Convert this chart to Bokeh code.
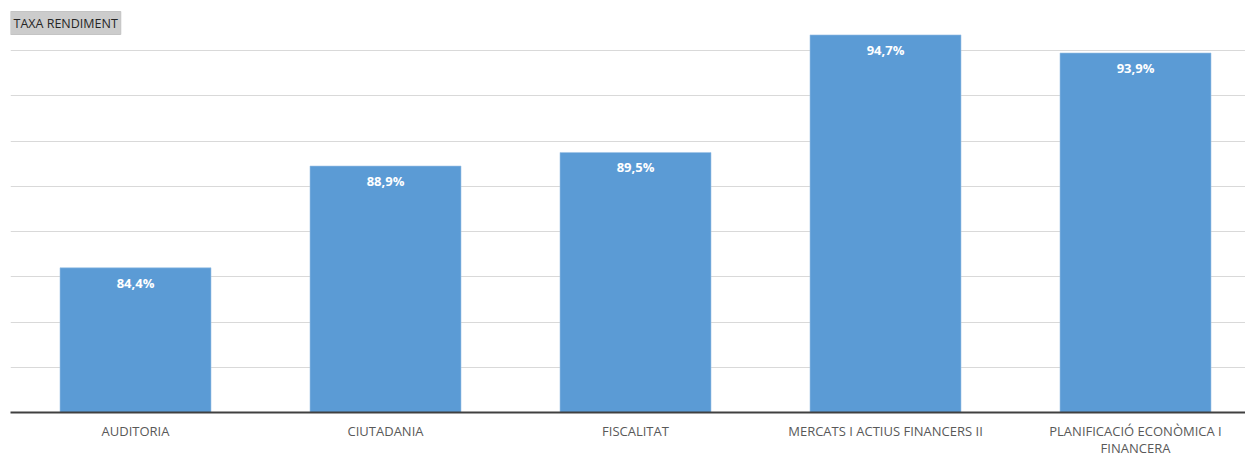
from bokeh.plotting import figure
from bokeh.models import Range1d, ColumnDataSource, Label, FixedTicker
from bokeh.embed import file_html
from bokeh.resources import INLINE
from bokeh.core.properties import value

categories = ["AUDITORIA", "CIUTADANIA", "FISCALITAT", "MERCATS I ACTIUS FINANCERS II",
              "PLANIFICACIÓ ECONÒMICA I\nFINANCERA"]
rates = [84.4, 88.9, 89.5, 94.7, 93.9]
labels = ["84,4%", "88,9%", "89,5%", "94,7%", "93,9%"]

xs = list(range(len(categories)))
src = ColumnDataSource(dict(x=xs, top=rates, lab=labels))

p = figure(width=1245, height=459, output_backend="svg", toolbar_location=None,
           x_range=Range1d(-0.5, 4.44), y_range=Range1d(78, 96),
           min_border_left=10, min_border_right=0, min_border_top=5, min_border_bottom=47)
p.outline_line_color = None
p.background_fill_color = "white"
p.border_fill_color = "white"

p.vbar(x="x", top="top", bottom=78, width=0.604, source=src,
       fill_color="#5B9BD5", line_color="#9DC3E6", line_width=0.6)

p.text(x="x", y="top", text="lab", source=src, text_color="white",
       text_font=value("Open Sans"), text_font_size="13px", text_font_style="bold",
       text_align="center", text_baseline="top", y_offset=6)

p.yaxis.visible = False
p.ygrid.ticker = FixedTicker(ticks=[80, 82, 84, 86, 88, 90, 92, 94, 96])
p.ygrid.grid_line_color = "#d9d9d9"
p.ygrid.grid_line_width = 1
p.xgrid.visible = False

p.xaxis.ticker = FixedTicker(ticks=xs)
p.xaxis.major_label_overrides = {i: c for i, c in enumerate(categories)}
p.xaxis.axis_line_color = "#404040"
p.xaxis.axis_line_width = 2
p.xaxis.major_tick_line_color = None
p.xaxis.minor_tick_line_color = None
p.xaxis.major_tick_in = 0
p.xaxis.major_tick_out = 0
p.xaxis.major_label_standoff = 9
p.xaxis.major_label_text_font = "Open Sans"
p.xaxis.major_label_text_font_size = "13px"
p.xaxis.major_label_text_line_height = 0.97
p.xaxis.major_label_text_color = "#595959"

title = Label(x=0, y=401, x_units="screen", y_units="screen", text="TAXA RENDIMENT",
              text_font="Open Sans", text_font_size="12.5px", text_color="#262626",
              text_baseline="top",
              background_fill_color="#cccccc", border_line_color="#c4c4c4",
              padding=3)
p.add_layout(title)

open("out.html", "w").write(file_html(p, INLINE))
